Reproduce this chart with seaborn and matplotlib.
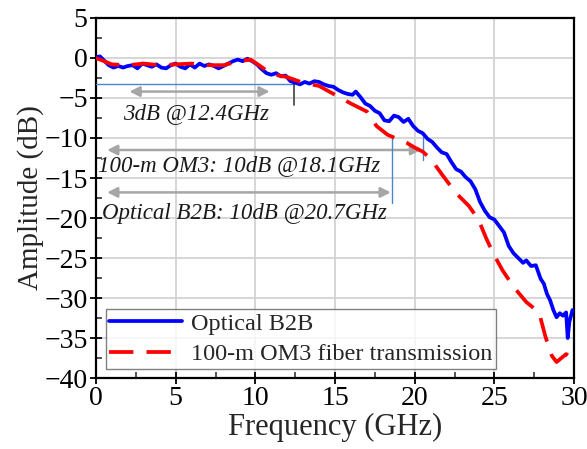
import matplotlib
matplotlib.use("Agg")
import matplotlib.pyplot as plt
import seaborn as sns
import pandas as pd

# ---- data ----
freq_b2b = [0.0, 0.25, 0.5, 0.8, 1.1, 1.4, 1.7, 2.0, 2.3, 2.6, 2.9, 3.2, 3.5, 3.8, 4.1, 4.4, 4.7,
            5.0, 5.3, 5.6, 5.9, 6.2, 6.5, 6.8, 7.1, 7.4, 7.7, 8.0, 8.3, 8.6, 8.9, 9.2, 9.5, 9.8,
            10.1, 10.4, 10.7, 11.0, 11.3, 11.6, 11.9, 12.2, 12.5, 12.8, 13.1, 13.4, 13.7, 14.0,
            14.3, 14.6, 14.9, 15.2, 15.5, 15.8, 16.1, 16.3, 16.6, 16.9, 17.2, 17.5, 17.8, 18.1,
            18.4, 18.7, 19.0, 19.3, 19.6, 19.9, 20.2, 20.5, 20.8, 21.1, 21.4, 21.7, 22.0, 22.3,
            22.6, 22.9, 23.2, 23.5, 23.8, 24.1, 24.4, 24.7, 25.0, 25.3, 25.6, 25.9, 26.2, 26.5,
            26.8, 27.0, 27.3, 27.6, 27.9, 28.1, 28.3, 28.5, 28.7, 28.9, 29.1, 29.3, 29.5, 29.6,
            29.7, 29.9]
amp_b2b = [0.1, 0.2, -0.3, -0.9, -1.2, -1.0, -1.2, -1.0, -0.9, -1.3, -0.7, -0.9, -1.1, -0.8,
           -1.2, -1.3, -0.9, -0.7, -1.1, -1.3, -0.8, -1.2, -0.7, -1.0, -0.8, -1.0, -1.3, -1.0,
           -0.7, -0.4, -0.2, -0.4, -0.1, -0.4, -0.8, -1.4, -1.9, -2.1, -1.9, -2.3, -2.2, -2.9,
           -3.1, -3.3, -3.0, -3.2, -2.9, -3.0, -3.3, -3.5, -3.6, -4.0, -4.3, -4.5, -4.6, -4.2,
           -4.9, -5.7, -6.0, -6.6, -6.9, -7.8, -7.9, -7.2, -7.4, -8.0, -7.6, -8.5, -9.1, -9.4,
           -10.1, -10.5, -11.2, -11.8, -12.0, -13.0, -13.9, -14.2, -14.9, -15.4, -16.4, -18.0,
           -19.1, -19.9, -20.2, -21.0, -21.8, -23.5, -24.4, -25.0, -25.6, -25.3, -26.0, -25.9,
           -27.6, -28.2, -29.5, -30.3, -31.5, -32.4, -31.9, -32.2, -31.8, -35.0, -33.0, -31.5]

freq_om3 = [0.0, 0.5, 1.0, 2.0, 3.0, 4.0, 5.0, 6.0, 7.0, 8.0, 9.0, 9.7, 10.3, 11.0, 12.0, 13.0,
            14.0, 15.0, 16.0, 17.0, 17.6, 18.3, 19.0, 19.5, 20.0, 20.5, 21.0, 21.8, 22.6, 23.4,
            24.0, 24.5, 25.0, 25.5, 26.2, 27.0, 27.8, 28.2, 28.6, 28.9, 29.2, 29.5, 29.7]
amp_om3 = [0.0, -0.4, -0.8, -0.9, -0.7, -0.9, -0.8, -0.7, -0.9, -0.9, -0.4, -0.2, -1.0, -2.0,
           -2.4, -3.1, -3.5, -4.6, -5.7, -6.7, -8.5, -9.6, -10.2, -10.6, -11.2, -11.7, -12.6,
           -14.8, -16.9, -18.5, -20.2, -22.6, -24.7, -26.5, -28.6, -30.5, -31.8, -34.8, -37.2,
           -38.0, -37.5, -37.0, -37.3]

labels = ["Optical B2B", "100-m OM3 fiber transmission"]
ann_3db = "3dB @12.4GHz"
ann_om3 = "100-m OM3: 10dB @18.1GHz"
ann_b2b = "Optical B2B: 10dB @20.7GHz"

sns.set_theme(style="ticks")
plt.rcParams['font.family'] = ['Liberation Serif', 'DejaVu Serif']

fig = plt.figure(figsize=(5.87, 4.49), dpi=100)
ax = fig.add_axes([0.1635, 0.158, 0.8145, 0.802])

df1 = pd.DataFrame({"f": freq_b2b, "a": amp_b2b})
df2 = pd.DataFrame({"f": freq_om3, "a": amp_om3})
sns.lineplot(data=df1, x="f", y="a", ax=ax, color="#0000ff", lw=2.7, label=labels[0], zorder=4)
sns.lineplot(data=df2, x="f", y="a", ax=ax, color="#ff0000", lw=2.7, label=labels[1], zorder=5)
ax.lines[1].set_dashes([6.5, 3.5])

ax.set_xlim(0, 30)
ax.set_ylim(-40, 5)
ax.set_xticks(range(0, 31, 5))
ax.set_yticks(range(-40, 6, 5))
ax.set_xticks([2.5 + 5 * i for i in range(6)], minor=True)
ax.set_yticks([-37.5 + 5 * i for i in range(9)], minor=True)
ax.grid(True, which="major", color="#d0d0d0", lw=1.2)
ax.set_axisbelow(True)
ax.tick_params(which="major", direction="inout", length=8, width=1.3, labelsize=20,
               colors="black", pad=2)
ax.tick_params(which="minor", direction="in", length=4, width=1.1)
for s in ax.spines.values():
    s.set_visible(True)
    s.set_linewidth(1.6)
    s.set_color("black")
ax.set_xlabel("Frequency (GHz)", fontsize=22, labelpad=1)
ax.set_ylabel("Amplitude (dB)", fontsize=21, labelpad=0)

# annotations
ax.plot([0, 12.4], [-3.2, -3.2], color="#4a86c8", lw=1.0, zorder=3)
ax.plot([12.4, 12.4], [-3.0, -5.9], color="#404040", lw=1.2, zorder=3)
arrow = dict(arrowstyle="<|-|>", color="#a6a6a6", lw=1.8, mutation_scale=15, shrinkA=0, shrinkB=0)
ax.annotate("", xy=(10.9, -4.2), xytext=(2.1, -4.2), arrowprops=arrow)
ax.text(6.3, -6.9, ann_3db, fontsize=16.5, style="italic", ha="center", va="center",
        color="#1a1a1a")

ax.plot([20.5, 20.5], [-9.9, -12.7], color="#4a86c8", lw=1.0, zorder=3)
ax.annotate("", xy=(20.4, -11.5), xytext=(0.7, -11.5), arrowprops=arrow)
ax.text(0.1, -13.4, ann_om3, fontsize=16.5, style="italic", ha="left", va="center",
        color="#1a1a1a")

ax.plot([18.6, 18.6], [-10.0, -18.1], color="#4a86c8", lw=1.0, zorder=3)
ax.annotate("", xy=(18.5, -16.8), xytext=(0.7, -16.8), arrowprops=arrow)
ax.text(0.35, -19.4, ann_b2b, fontsize=16.5, style="italic", ha="left", va="center",
        color="#1a1a1a")

leg = ax.legend(loc="lower left", bbox_to_anchor=(0.02, 0.025), fontsize=17.5, frameon=True,
                fancybox=False, edgecolor="#606060", handlelength=3.0, borderpad=0.15,
                labelspacing=0.35, handletextpad=0.35, borderaxespad=0)
leg.get_frame().set_linewidth(1.0)

fig.savefig("out.png", dpi=100)
